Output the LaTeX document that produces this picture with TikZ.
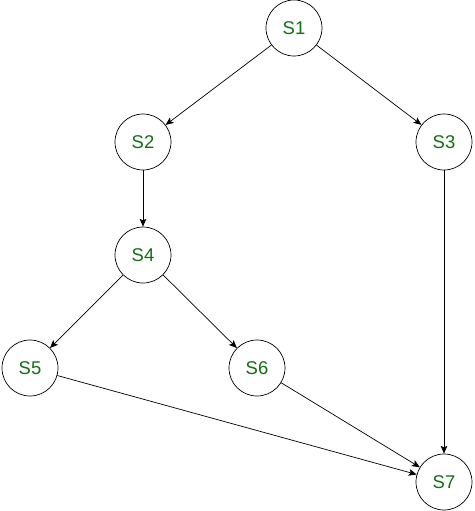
\documentclass[tikz,border=0pt]{standalone}
\usepackage{fontspec}
\setmainfont{Liberation Sans}
\usepackage{tikz}
\usetikzlibrary{arrows.meta}
\definecolor{sgreen}{RGB}{20,110,20}
\renewcommand{\ss}{\fontsize{10.5}{12}\selectfont}

\begin{document}
\begin{tikzpicture}[x=0.02cm,y=-0.02cm,>={Stealth[length=4.5pt,width=3.8pt,inset=1pt]},
    st/.style={draw=black,fill=white,circle,minimum size=1.12cm,inner sep=0pt,text=sgreen,font=\ss}]
   \useasboundingbox (0,0) rectangle (474,511);
   \node[st] (s1) at (294,28)  {S1};
   \node[st] (s2) at (143,142) {S2};
   \node[st] (s3) at (444,142) {S3};
   \node[st] (s4) at (143,255) {S4};
   \node[st] (s5) at (30,368)  {S5};
   \node[st] (s6) at (257,368) {S6};
   \node[st] (s7) at (444,482) {S7};
   \draw[->] (s1) -- (s2);
   \draw[->] (s1) -- (s3);
   \draw[->] (s2) -- (s4);
   \draw[->] (s4) -- (s5);
   \draw[->] (s4) -- (s6);
   \draw[->] (s3) -- (s7);
   \draw[->] (s5) -- (s7);
   \draw[->] (s6) -- (s7);
  \end{tikzpicture}
\end{document}
